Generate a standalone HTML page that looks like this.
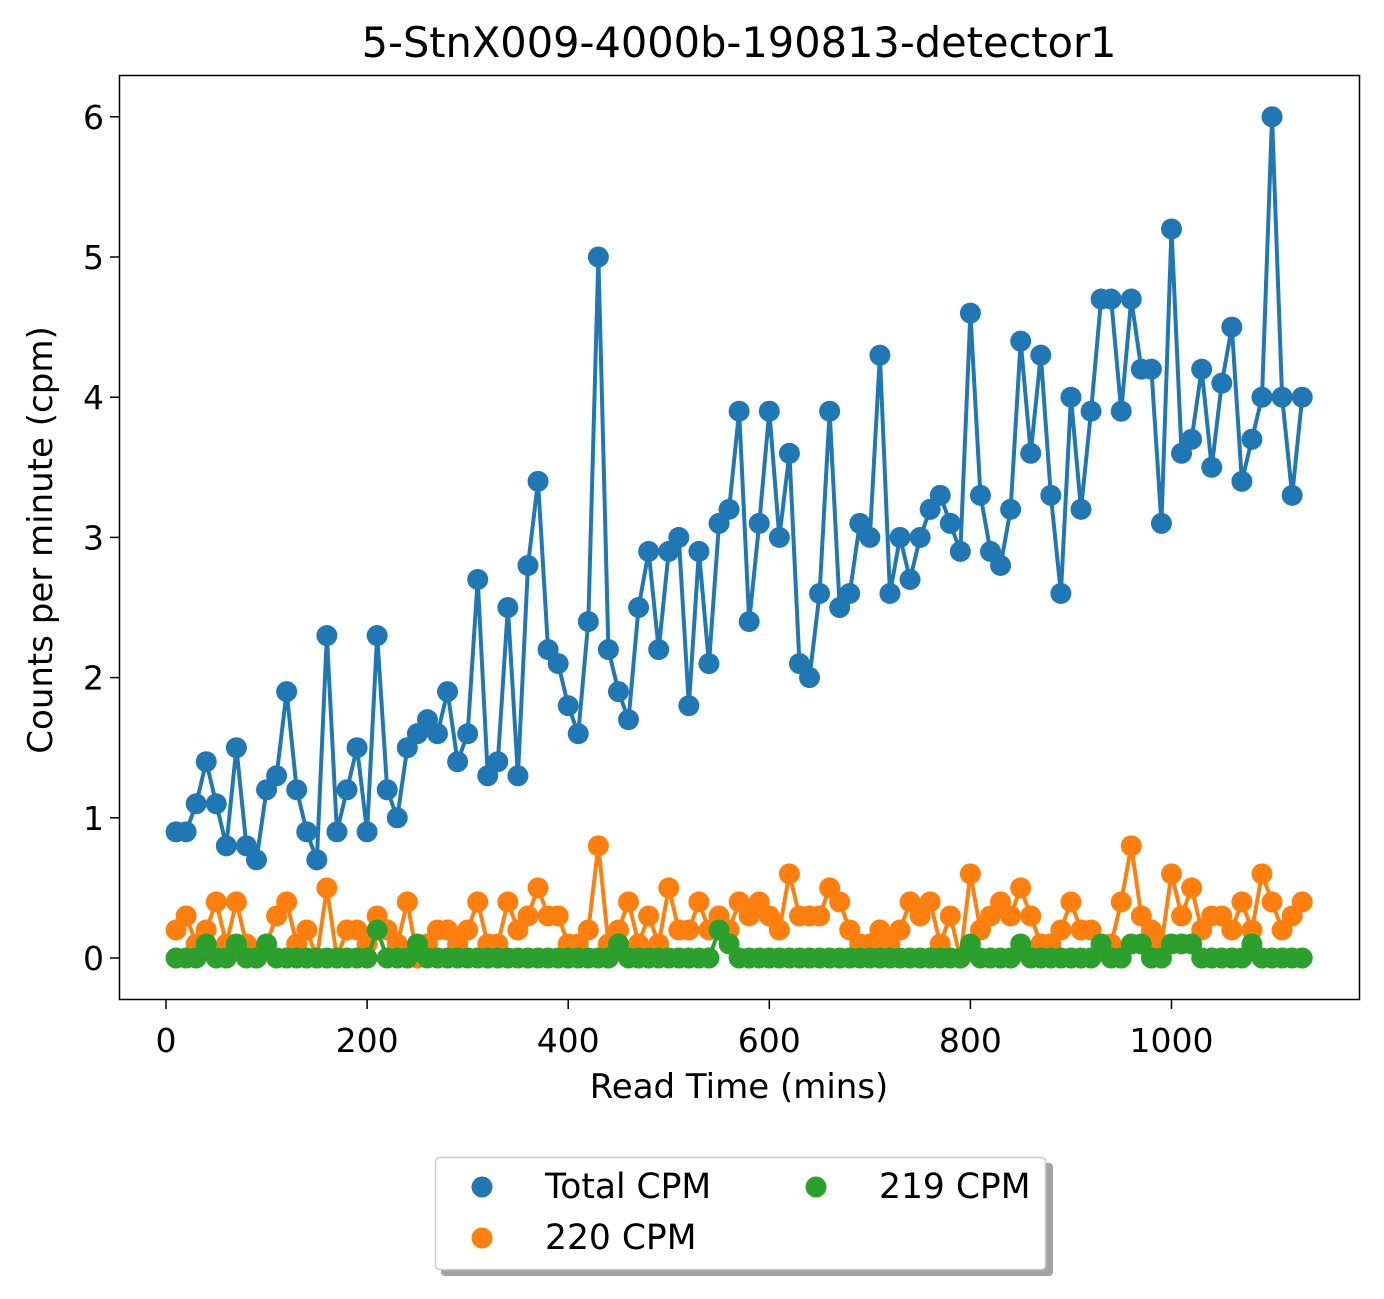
<!DOCTYPE html>
<html><head><meta charset="utf-8"><style>
body{margin:0;background:#fff;font-family:"Liberation Sans","DejaVu Sans",sans-serif}
svg text{font-family:"DejaVu Sans","Liberation Sans",sans-serif;fill:#000}
</style></head><body>
<svg id="c" width="1384" height="1294" viewBox="0 0 1384 1294">
<text x="739" y="57" font-size="41.5" text-anchor="middle">5-StnX009-4000b-190813-detector1</text>
<g id="plot"></g>
<rect x="119.5" y="75.5" width="1240" height="924" fill="none" stroke="#000" stroke-width="1.5"/>
<text x="739" y="1098" font-size="34" text-anchor="middle">Read Time (mins)</text>
<text transform="translate(52,540) rotate(-90)" font-size="34" text-anchor="middle">Counts per minute (cpm)</text>
<g>
<rect x="441" y="1163" width="612" height="113" rx="4" fill="#999" opacity="0.9"/>
<rect x="435.5" y="1157.5" width="610" height="112" rx="4" fill="#fff" stroke="#ccc" stroke-width="1.5"/>
<circle cx="482" cy="1187" r="10.5" fill="#1f77b4"/>
<text x="545" y="1198" font-size="34.5">Total CPM</text>
<circle cx="482" cy="1238" r="10.5" fill="#ff7f0e"/>
<text x="545" y="1249" font-size="34.5">220 CPM</text>
<circle cx="816" cy="1187" r="10.5" fill="#2ca02c"/>
<text x="879" y="1198" font-size="34.5">219 CPM</text>
</g>
</svg>
<script>
const totalCpm=[0.9,0.9,1.1,1.4,1.1,0.8,1.5,0.8,0.7,1.2,1.3,1.9,1.2,0.9,0.7,2.3,0.9,1.2,1.5,0.9,2.3,1.2,1.0,1.5,1.6,1.7,1.6,1.9,1.4,1.6,2.7,1.3,1.4,2.5,1.3,2.8,3.4,2.2,2.1,1.8,1.6,2.4,5.0,2.2,1.9,1.7,2.5,2.9,2.2,2.9,3.0,1.8,2.9,2.1,3.1,3.2,3.9,2.4,3.1,3.9,3.0,3.6,2.1,2.0,2.6,3.9,2.5,2.6,3.1,3.0,4.3,2.6,3.0,2.7,3.0,3.2,3.3,3.1,2.9,4.6,3.3,2.9,2.8,3.2,4.4,3.6,4.3,3.3,2.6,4.0,3.2,3.9,4.7,4.7,3.9,4.7,4.2,4.2,3.1,5.2,3.6,3.7,4.2,3.5,4.1,4.5,3.4,3.7,4.0,6.0,4.0,3.3,4.0];
const cpm220=[0.2,0.3,0.1,0.2,0.4,0.1,0.4,0.1,0.0,0.1,0.3,0.4,0.1,0.2,0.0,0.5,0.0,0.2,0.2,0.1,0.3,0.2,0.1,0.4,0.0,0.1,0.2,0.2,0.1,0.2,0.4,0.1,0.1,0.4,0.2,0.3,0.5,0.3,0.3,0.1,0.1,0.2,0.8,0.1,0.2,0.4,0.1,0.3,0.1,0.5,0.2,0.2,0.4,0.2,0.3,0.2,0.4,0.3,0.4,0.3,0.2,0.6,0.3,0.3,0.3,0.5,0.4,0.2,0.1,0.1,0.2,0.1,0.2,0.4,0.3,0.4,0.1,0.3,0.0,0.6,0.2,0.3,0.4,0.3,0.5,0.3,0.1,0.1,0.2,0.4,0.2,0.2,0.1,0.1,0.4,0.8,0.3,0.2,0.1,0.6,0.3,0.5,0.2,0.3,0.3,0.2,0.4,0.2,0.6,0.4,0.2,0.3,0.4];
const cpm219=[0,0,0,0.1,0,0,0.1,0,0,0.1,0,0,0,0,0,0,0,0,0,0,0.2,0,0,0,0.1,0,0,0,0,0,0,0,0,0,0,0,0,0,0,0,0,0,0,0,0.1,0,0,0,0,0,0,0,0,0,0.2,0.1,0,0,0,0,0,0,0,0,0,0,0,0,0,0,0,0,0,0,0,0,0,0,0,0.1,0,0,0,0,0.1,0,0,0,0,0,0,0,0.1,0,0,0.1,0.1,0,0,0.1,0.1,0.1,0,0,0,0,0,0.1,0,0,0,0,0];
const xTicks=[0,200,400,600,800,1000];
const yTicks=[0,1,2,3,4,5,6];
const readTimes=totalCpm.map((_,i)=>10*(i+1));
const X=v=>166+v*1.0055, Y=v=>958-v*140.2;
const NS="http://www.w3.org/2000/svg", plot=document.getElementById('plot');
function mk(t,a){const e=document.createElementNS(NS,t);for(const k in a)e.setAttribute(k,a[k]);plot.appendChild(e);return e;}
xTicks.forEach(t=>{
 const l=mk('line',{x1:X(t),x2:X(t),y1:1000,y2:1009,stroke:'#000','stroke-width':1.5});
 
 
 const tx=mk('text',{x:X(t),y:1052,'font-size':33,'text-anchor':'middle'});tx.textContent=t;
 
 
});
yTicks.forEach(t=>{
 const l=mk('line',{x1:110,x2:119,y1:Y(t),y2:Y(t),stroke:'#000','stroke-width':1.5});
 
 
 const tx=mk('text',{x:104,y:Y(t)+12,'font-size':33,'text-anchor':'end'});tx.textContent=t;
 
 
});
function series(vals,color,name){
 const p=mk('polyline',{points:vals.map((v,i)=>X(readTimes[i])+','+Y(v)).join(' '),fill:'none',stroke:color,'stroke-width':4,'stroke-linejoin':'round'});
 
 
 vals.forEach((v,i)=>{const c=mk('circle',{cx:X(readTimes[i]),cy:Y(v),r:10.5,fill:color});
  
  });
}
series(totalCpm,'#1f77b4','total-cpm');
series(cpm220,'#ff7f0e','cpm-220');
series(cpm219,'#2ca02c','cpm-219');
</script>
</body></html>
